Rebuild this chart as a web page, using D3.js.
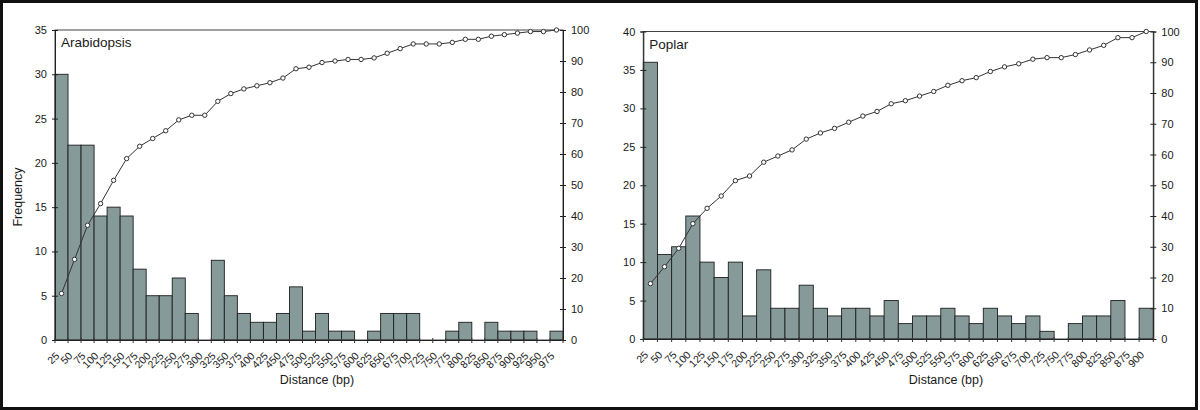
<!DOCTYPE html>
<html>
<head>
<meta charset="utf-8">
<script src="https://cdn.jsdelivr.net/npm/d3@7/dist/d3.min.js"></script>
<style>
  html, body { margin: 0; padding: 0; background: #fff; }
  svg { display: block; }
  text { font-family: "Liberation Sans", Arial, Helvetica, sans-serif; fill: #1a1a1a; }
</style>
</head>
<body>
<svg id="chart" width="1200" height="410"></svg>
<script>
// ---------- DATA ----------
const arabidopsisCategories = ["25","50","75","100","125","150","175","200","225","250","275","300","325","350","375","400","425","450","475","500","525","550","575","600","625","650","675","700","725","750","775","800","825","850","875","900","925","950","975"];
const arabidopsisFrequency = [30,22,22,14,15,14,8,5,5,7,3,0,9,5,3,2,2,3,6,1,3,1,1,0,1,3,3,3,0,0,1,2,0,2,1,1,1,0,1];
const arabidopsisCumulative = [15,26,37,44,51.5,58.5,62.5,65,67.5,71,72.5,72.5,77,79.5,81,82,83,84.5,87.5,88,89.5,90,90.5,90.5,91,92.5,94,95.5,95.5,95.5,96,97,97,98,98.5,99,99.5,99.5,100];

const poplarCategories = ["25","50","75","100","125","150","175","200","225","250","275","300","325","350","375","400","425","450","475","500","525","550","575","600","625","650","675","700","725","750","775","800","825","850","875","900"];
const poplarFrequency = [36,11,12,16,10,8,10,3,9,4,4,7,4,3,4,4,3,5,2,3,3,4,3,2,4,3,2,3,1,0,2,3,3,5,0,4];
const poplarCumulative = [18,23.5,29.5,37.5,42.5,46.5,51.5,53,57.5,59.5,61.5,65,67,68.5,70.5,72.5,74,76.5,77.5,79,80.5,82.5,84,85,87,88.5,89.5,91,91.5,91.5,92.5,94,95.5,98,98,100];

const arabidopsisLeftTicks = [0,5,10,15,20,25,30,35];
const poplarLeftTicks = [0,5,10,15,20,25,30,35,40];
const percentTicks = [0,10,20,30,40,50,60,70,80,90,100];

const titles = ["Arabidopsis", "Poplar"];
const xAxisTitle = "Distance (bp)";
const yAxisTitle = "Frequency";

// ---------- DRAW ----------
const svg = d3.select("#chart");

svg.append("rect")
  .attr("x", 1.5).attr("y", 1.5)
  .attr("width", 1195).attr("height", 407)
  .attr("fill", "none").attr("stroke", "#111").attr("stroke-width", 3);

function styleAxis(a, size) {
  a.attr("color", "#222");
  a.selectAll(".tick text")
    .attr("font-size", size)
    .style("fill", "#1a1a1a")
    .style("font-family", '"Liberation Sans", Arial, sans-serif');
}

function drawPanel(opt) {
  const { left, right, top, bottom, cats, freq, cum, yMax, yTicks, title, xTitleX, showYTitle } = opt;
  const g = svg.append("g");

  const x = d3.scaleBand().domain(cats).range([left, right]).paddingInner(0).paddingOuter(0);
  const y = d3.scaleLinear().domain([0, yMax]).range([bottom, top]);
  const y2 = d3.scaleLinear().domain([0, 100]).range([bottom, top]);

  // bars
  g.append("g").selectAll("rect")
    .data(cats.map((c, i) => ({ c, v: freq[i] })).filter(d => d.v > 0))
    .join("rect")
    .attr("x", d => x(d.c))
    .attr("y", d => y(d.v))
    .attr("width", x.bandwidth())
    .attr("height", d => y(0) - y(d.v))
    .attr("fill", "#879a9a")
    .attr("stroke", "#1e1e1e")
    .attr("stroke-width", 0.9);

  // plot frame
  g.append("rect")
    .attr("x", left).attr("y", top)
    .attr("width", right - left).attr("height", bottom - top)
    .attr("fill", "none").attr("stroke", "#444").attr("stroke-width", 1);

  // left axis
  const ax = g.append("g").attr("transform", `translate(${left},0)`)
    .call(d3.axisLeft(y).tickValues(yTicks).tickSize(3).tickPadding(5));
  ax.selectAll(".tick line").attr("x1", -3).attr("x2", 3);
  styleAxis(ax, 11);

  // right axis
  const ar = g.append("g").attr("transform", `translate(${right},0)`)
    .call(d3.axisRight(y2).tickValues(percentTicks).tickSize(3).tickPadding(5));
  ar.selectAll(".tick line").attr("x1", -3).attr("x2", 3);
  styleAxis(ar, 11);

  // bottom axis (labels)
  const ab = g.append("g").attr("transform", `translate(0,${bottom})`)
    .call(d3.axisBottom(x).tickSize(0).tickPadding(0));
  styleAxis(ab, 10.5);
  ab.selectAll(".tick text")
    .attr("text-anchor", "end")
    .attr("dy", "0.35em")
    .attr("y", 0)
    .attr("transform", "translate(-4,14) rotate(-45)");

  // category boundary ticks
  const edges = cats.map(c => x(c)).concat([x(cats[cats.length - 1]) + x.bandwidth()]);
  g.append("g").selectAll("line").data(edges).join("line")
    .attr("x1", d => d).attr("x2", d => d)
    .attr("y1", bottom - 2).attr("y2", bottom + 3)
    .attr("stroke", "#333").attr("stroke-width", 1);

  // cumulative line
  const line = d3.line()
    .x((d, i) => x(cats[i]) + x.bandwidth() / 2)
    .y(d => y2(d));
  g.append("path").datum(cum)
    .attr("d", line)
    .attr("fill", "none").attr("stroke", "#333").attr("stroke-width", 1);
  g.append("g").selectAll("circle").data(cum).join("circle")
    .attr("cx", (d, i) => x(cats[i]) + x.bandwidth() / 2)
    .attr("cy", d => y2(d))
    .attr("r", 2.2)
    .attr("fill", "#fff").attr("stroke", "#333").attr("stroke-width", 1);

  // title inside plot
  g.append("text").attr("x", left + 6).attr("y", top + 17)
    .attr("font-size", 13.5).text(title);

  // x axis title
  g.append("text").attr("x", xTitleX).attr("y", 384)
    .attr("text-anchor", "middle").attr("font-size", 12.5).text(xAxisTitle);

  if (showYTitle) {
    g.append("text")
      .attr("transform", `translate(22,197) rotate(-90)`)
      .attr("text-anchor", "middle").attr("font-size", 12.5).text(yAxisTitle);
  }
}

drawPanel({
  left: 55, right: 563, top: 30, bottom: 340,
  cats: arabidopsisCategories, freq: arabidopsisFrequency, cum: arabidopsisCumulative,
  yMax: 35, yTicks: arabidopsisLeftTicks, title: titles[0], xTitleX: 317, showYTitle: true
});

drawPanel({
  left: 643.3, right: 1153.3, top: 31.5, bottom: 339,
  cats: poplarCategories, freq: poplarFrequency, cum: poplarCumulative,
  yMax: 40, yTicks: poplarLeftTicks, title: titles[1], xTitleX: 946, showYTitle: false
});
</script>
</body>
</html>
